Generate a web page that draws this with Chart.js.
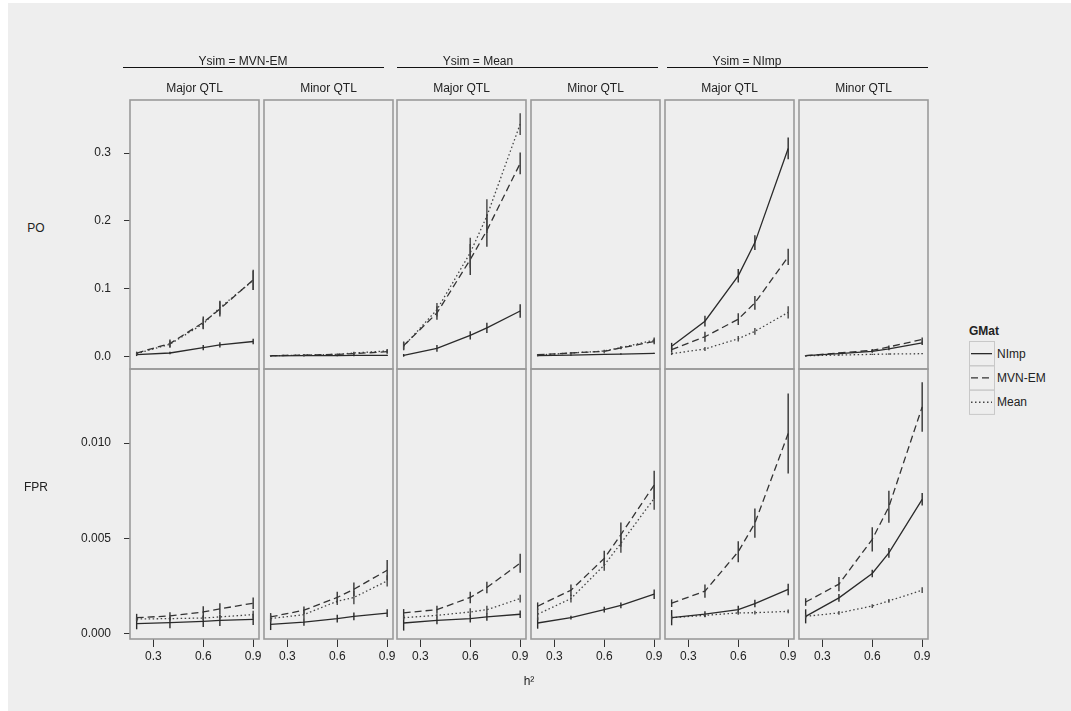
<!DOCTYPE html>
<html>
<head>
<meta charset="utf-8">
<title>PO / FPR by h²</title>
<script src="https://cdn.jsdelivr.net/npm/chart.js@4.4.1/dist/chart.umd.min.js"></script>
<style>
  html, body { margin: 0; background: #fff; }
  body { position: relative; width: 1071px; height: 711px; overflow: hidden; }
  #bg { position: absolute; left: 8px; top: 3px; width: 1063px; height: 708px; background: #eeeeee; }
  canvas { position: absolute; }
  .t { position: absolute; font: 12px "Liberation Sans", Arial, sans-serif; color: #222;
       white-space: nowrap; transform: translate(-50%, -50%); }
  .rule { position: absolute; height: 1px; background: #111; }
  #key { position: absolute; left: 969px; top: 341px; }
</style>
</head>
<body>
<div id="bg"></div>

<script>
// h² levels used for every panel
const h2 = [0.2, 0.4, 0.6, 0.7, 0.9];

// panel order: MVN-EM major, MVN-EM minor, Mean major, Mean minor, NImp major, NImp minor
const ysimLevels = ['Ysim = MVN-EM', 'Ysim = Mean', 'Ysim = NImp'];
const qtlLevels = ['Major QTL', 'Minor QTL'];
const rowLabels = ['PO', 'FPR'];
const gmatLevels = ['NImp', 'MVN-EM', 'Mean'];

const poTicks = [0, 0.1, 0.2, 0.3];
const fprTicks = [0, 0.005, 0.010];
const h2Ticks = [0.3, 0.6, 0.9];

// PO means and error half-widths
const poNImp = [
  [0.0025, 0.005, 0.013, 0.017, 0.022],
  [0.0008, 0.001, 0.0012, 0.0014, 0.0016],
  [0.0015, 0.012, 0.031, 0.042, 0.067],
  [0.001, 0.002, 0.003, 0.0035, 0.0045],
  [0.015, 0.052, 0.119, 0.168, 0.307],
  [0.001, 0.004, 0.0075, 0.011, 0.020]
];
const poNImpErr = [
  [0.002, 0.002, 0.004, 0.004, 0.004],
  [0.001, 0.001, 0.001, 0.001, 0.001],
  [0.002, 0.005, 0.006, 0.0075, 0.010],
  [0.001, 0.001, 0.001, 0.001, 0.001],
  [0.005, 0.008, 0.010, 0.011, 0.016],
  [0.001, 0.001, 0.002, 0.002, 0.003]
];
const poMVN = [
  [0.005, 0.019, 0.050, 0.070, 0.113],
  [0.001, 0.002, 0.003, 0.004, 0.007],
  [0.016, 0.064, 0.143, 0.186, 0.285],
  [0.0025, 0.005, 0.0075, 0.0125, 0.022],
  [0.010, 0.029, 0.055, 0.079, 0.147],
  [0.001, 0.005, 0.009, 0.014, 0.025]
];
const poMVNErr = [
  [0.002, 0.006, 0.009, 0.011, 0.015],
  [0.001, 0.001, 0.001, 0.002, 0.003],
  [0.006, 0.010, 0.023, 0.024, 0.016],
  [0.001, 0.001, 0.002, 0.002, 0.004],
  [0.004, 0.0075, 0.0086, 0.010, 0.012],
  [0.001, 0.001, 0.002, 0.002, 0.003]
];
const poMean = [
  [0.004, 0.018, 0.048, 0.072, 0.112],
  [0.001, 0.002, 0.003, 0.005, 0.008],
  [0.015, 0.069, 0.153, 0.207, 0.343],
  [0.002, 0.005, 0.008, 0.013, 0.024],
  [0.004, 0.011, 0.026, 0.037, 0.065],
  [0.001, 0.002, 0.003, 0.0035, 0.004]
];
const poMeanErr = [
  [0.002, 0.005, 0.008, 0.010, 0.014],
  [0.001, 0.001, 0.001, 0.002, 0.003],
  [0.006, 0.010, 0.022, 0.025, 0.016],
  [0.001, 0.001, 0.002, 0.002, 0.004],
  [0.002, 0.003, 0.004, 0.005, 0.009],
  [0.001, 0.001, 0.001, 0.001, 0.001]
];

// FPR means and error half-widths
const fprNImp = [
  [0.00053, 0.00058, 0.00065, 0.0007, 0.00075],
  [0.00049, 0.00061, 0.00079, 0.00091, 0.00108],
  [0.00056, 0.0007, 0.00079, 0.00088, 0.00102],
  [0.00056, 0.00084, 0.00126, 0.00149, 0.00207],
  [0.00084, 0.00102, 0.00126, 0.00158, 0.00232],
  [0.00091, 0.00188, 0.00316, 0.00424, 0.00705]
];
const fprNImpErr = [
  [0.0003, 0.0003, 0.0003, 0.0003, 0.0003],
  [0.0003, 0.0002, 0.0002, 0.0002, 0.0002],
  [0.0004, 0.0002, 0.0002, 0.0002, 0.0002],
  [0.0003, 0.0001, 0.00015, 0.00015, 0.00025],
  [0.0004, 0.00015, 0.0002, 0.0002, 0.0003],
  [0.00037, 0.0002, 0.0002, 0.00025, 0.00033]
];
const fprMVN = [
  [0.00084, 0.00093, 0.00114, 0.0013, 0.0016],
  [0.00088, 0.00123, 0.0019, 0.00233, 0.00333],
  [0.00109, 0.00126, 0.0019, 0.00242, 0.0037],
  [0.00144, 0.00228, 0.00395, 0.0052, 0.0078],
  [0.0016, 0.00223, 0.0043, 0.0058, 0.0105],
  [0.00166, 0.0026, 0.00495, 0.00666, 0.0119]
];
const fprMVNErr = [
  [0.0002, 0.0002, 0.0003, 0.0003, 0.0003],
  [0.0002, 0.0002, 0.0003, 0.00035, 0.00053],
  [0.0002, 0.0002, 0.0003, 0.0003, 0.0005],
  [0.0002, 0.0003, 0.0004, 0.00064, 0.00075],
  [0.0002, 0.00035, 0.00055, 0.00077, 0.0021],
  [0.0002, 0.00037, 0.00064, 0.00084, 0.0013]
];
const fprMean = [
  [0.00077, 0.00079, 0.00082, 0.00088, 0.001],
  [0.00079, 0.001, 0.0017, 0.0019, 0.00277],
  [0.00084, 0.00096, 0.00114, 0.00126, 0.00184],
  [0.00102, 0.00184, 0.0036, 0.00474, 0.0071],
  [0.00084, 0.00096, 0.00109, 0.0011, 0.00117],
  [0.00091, 0.00109, 0.00145, 0.00172, 0.00228]
];
const fprMeanErr = [
  [0.0001, 0.0001, 0.0001, 0.0001, 0.0002],
  [0.0002, 0.0002, 0.0002, 0.00035, 0.0003],
  [0.0001, 0.0001, 0.0002, 0.0002, 0.0002],
  [0.0003, 0.0002, 0.0003, 0.0005, 0.0006],
  [0.0001, 0.0001, 0.0001, 0.0001, 0.0001],
  [0.0001, 0.0001, 0.0001, 0.0001, 0.00015]
];

// panel geometry
const panelLeft = [130, 264, 397, 531, 665, 799];
const panelW = 129;
const rowTop = [100, 369];
const rowH = [269, 270];
const axisW = 75, padT = 10, padR = 10, axisH = 35;

const FONT = { family: '"Liberation Sans", Arial, sans-serif', size: 12 };
const INK = '#222';
const styles = [
  { color: '#2a2a2a', dash: [] },
  { color: '#333333', dash: [7, 4] },
  { color: '#444444', dash: [1.5, 2.5] }
];

// vertical error bars, drawn through the chart's own scales
const errorBars = {
  id: 'errorBars',
  afterDatasetsDraw(chart) {
    const { ctx, chartArea: a, scales: { x, y } } = chart;
    ctx.save();
    ctx.beginPath();
    ctx.rect(a.left, a.top, a.width, a.height);
    ctx.clip();
    chart.data.datasets.forEach(ds => {
      ctx.strokeStyle = ds.borderColor;
      ctx.lineWidth = 1.4;
      ctx.setLineDash([]);
      ds.data.forEach((p, i) => {
        const e = ds.errors[i];
        if (!e) return;
        const px = x.getPixelForValue(p.x);
        ctx.beginPath();
        ctx.moveTo(px, y.getPixelForValue(p.y - e));
        ctx.lineTo(px, y.getPixelForValue(p.y + e));
        ctx.stroke();
      });
    });
    ctx.restore();
  }
};

// grey frame round every panel
const panelBox = {
  id: 'panelBox',
  afterDraw(chart) {
    const { ctx, chartArea: a } = chart;
    ctx.save();
    ctx.strokeStyle = '#9a9a9a';
    ctx.lineWidth = 1.6;
    ctx.strokeRect(a.left, a.top, a.width, a.height);
    ctx.restore();
  }
};

function series(vals, errs, k) {
  return {
    label: gmatLevels[k],
    data: h2.map((x, i) => ({ x, y: vals[i] })),
    errors: errs,
    borderColor: styles[k].color,
    borderDash: styles[k].dash,
    borderWidth: 1.3,
    pointRadius: 0,
    tension: 0,
    fill: false
  };
}

function drawPanel(col, row) {
  const showY = col === 0, showX = row === 1;
  const cv = document.createElement('canvas');
  const w = axisW + panelW + padR, h = padT + rowH[row] + axisH;
  cv.width = w; cv.height = h;
  cv.style.left = (panelLeft[col] - axisW) + 'px';
  cv.style.top = (rowTop[row] - padT) + 'px';
  document.body.appendChild(cv);

  const sets = row === 0
    ? [series(poNImp[col], poNImpErr[col], 0), series(poMVN[col], poMVNErr[col], 1), series(poMean[col], poMeanErr[col], 2)]
    : [series(fprNImp[col], fprNImpErr[col], 0), series(fprMVN[col], fprMVNErr[col], 1), series(fprMean[col], fprMeanErr[col], 2)];

  new Chart(cv, {
    type: 'line',
    data: { datasets: sets },
    options: {
      animation: false,
      responsive: false,
      devicePixelRatio: 1,
      layout: { autoPadding: false, padding: { left: 0, top: padT, right: padR, bottom: 0 } },
      plugins: { legend: { display: false }, tooltip: { enabled: false } },
      scales: {
        x: {
          type: 'linear', min: 0.16, max: 0.935,
          display: showX,
          afterBuildTicks: s => { s.ticks = h2Ticks.map(v => ({ value: v })); },
          afterFit: s => { s.height = axisH; s.paddingLeft = 0; s.paddingRight = 0; },
          ticks: { callback: v => v.toFixed(1), font: FONT, color: INK, padding: 2, maxRotation: 0, autoSkip: false },
          grid: { drawOnChartArea: false, drawTicks: true, tickLength: 8, tickColor: '#333', tickWidth: 1 },
          border: { display: false }
        },
        y: {
          type: 'linear',
          min: row === 0 ? -0.0186 : -0.00028,
          max: row === 0 ? 0.3785 : 0.01389,
          display: showY,
          afterBuildTicks: s => { s.ticks = (row === 0 ? poTicks : fprTicks).map(v => ({ value: v })); },
          afterFit: s => { s.width = axisW; s.paddingTop = 0; s.paddingBottom = 0; },
          ticks: { callback: v => v.toFixed(row === 0 ? 1 : 3), font: FONT, color: INK, padding: 13, autoSkip: false },
          grid: { drawOnChartArea: false, drawTicks: true, tickLength: 6, tickColor: '#333', tickWidth: 1 },
          border: { display: false }
        }
      }
    },
    plugins: [errorBars, panelBox]
  });
}

for (let r = 0; r < 2; r++)
  for (let c = 0; c < 6; c++) drawPanel(c, r);

// strip and axis labels
function text(str, x, y, extra) {
  const d = document.createElement('div');
  d.className = 't';
  d.textContent = str;
  d.style.left = x + 'px';
  d.style.top = y + 'px';
  if (extra) Object.assign(d.style, extra);
  document.body.appendChild(d);
  return d;
}
const ruleSpans = [[123, 384], [397, 658], [667, 928]];
const ysimCenters = [243, 478, 747];
ysimLevels.forEach((lab, i) => {
  text(lab, ysimCenters[i], 61);
  const r = document.createElement('div');
  r.className = 'rule';
  r.style.left = ruleSpans[i][0] + 'px';
  r.style.top = '67px';
  r.style.width = (ruleSpans[i][1] - ruleSpans[i][0]) + 'px';
  document.body.appendChild(r);
});
panelLeft.forEach((l, c) => text(qtlLevels[c % 2], l + panelW / 2, 88));

text(rowLabels[0], 36, 228);
text(rowLabels[1], 36, 487);
text('h²', 529, 681);

// key
text('GMat', 969, 331, { transform: 'translate(0,-50%)', fontWeight: 'bold' });
const rowGap = 24.3;
let svg = '<svg id="key" width="80" height="76" xmlns="http://www.w3.org/2000/svg">';
gmatLevels.forEach((lab, k) => {
  const y0 = 0.5 + k * rowGap;
  svg += `<rect x="0.5" y="${y0}" width="25" height="${rowGap}" fill="none" stroke="#c8c8c8" stroke-width="1"/>`;
  svg += `<line x1="2" x2="23" y1="${y0 + rowGap / 2}" y2="${y0 + rowGap / 2}" stroke="${styles[k].color}" stroke-width="1.3" stroke-dasharray="${styles[k].dash.join(' ') || 'none'}"/>`;
});
svg += '</svg>';
document.body.insertAdjacentHTML('beforeend', svg);
gmatLevels.forEach((lab, k) => text(lab, 997, 341.5 + k * rowGap + rowGap / 2, { transform: 'translate(0,-50%)' }));
</script>
</body>
</html>
